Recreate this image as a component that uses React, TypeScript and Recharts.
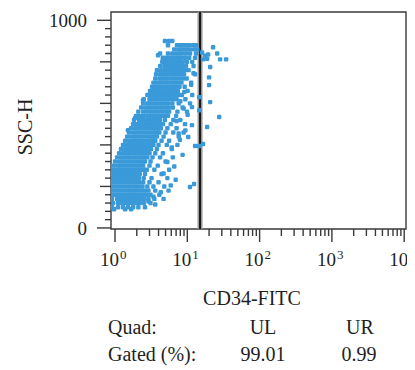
import React from 'react'
import {
  ScatterChart,
  Scatter,
  XAxis,
  YAxis,
  ReferenceArea,
  ReferenceLine,
} from 'recharts'

type Row = [number, number[]]

// each row: SSC-H level, then CD34-FITC values of the dots on that level
const crownRows: Row[] = [
  [900, [4.9, 5.6, 6.2]],
  [880, [5.4, 7.2, 8.0, 8.7, 9.6, 10.6, 12.0, 13.2]],
  [860, [6.6, 7.5, 8.2, 9.0, 9.9, 10.9, 12.4, 13.7]],
  [840, [4.2, 5.4, 6.2, 7.0, 7.7, 8.5, 9.6, 10.9, 13.2]],
  [820, [4.6, 5.1, 5.6, 6.2, 6.8, 7.5, 8.2, 9.3, 10.6, 12.8]],
  [800, [4.5, 4.9, 5.4, 6.0, 6.6, 7.2, 8.0, 8.7, 9.9, 11.7]],
]

const upperRows: Row[] = [
  [780, [4.2, 4.8, 5.3, 5.8, 6.4, 7.0, 7.7, 8.5, 9.6, 12.2]],
  [760, [3.8, 4.3, 4.8, 5.3, 5.8, 6.4, 7.0, 7.7, 8.5, 9.3, 10.4]],
  [740, [3.7, 4.2, 4.6, 5.1, 5.6, 6.2, 6.8, 7.5, 8.2, 9.0, 12.8]],
  [720, [3.6, 4.1, 4.5, 4.9, 5.4, 6.0, 6.6, 7.2, 8.0, 8.8, 9.8]],
  [700, [3.4, 3.8, 4.2, 4.6, 5.1, 5.6, 6.2, 6.8, 7.5, 8.3, 11.3]],
  [680, [3.25, 3.6, 3.9, 4.3, 4.8, 5.3, 5.8, 6.4, 7.0, 7.8, 9.2]],
  [660, [3.05, 3.4, 3.7, 4.1, 4.5, 4.9, 5.4, 6.0, 6.6, 7.4, 10.1]],
  [640, [2.8, 3.15, 3.5, 3.8, 4.2, 4.6, 5.1, 5.6, 6.2, 6.9, 7.6, 8.4, 11.7]],
  [620, [2.5, 3.0, 3.25, 3.6, 3.9, 4.3, 4.8, 5.3, 5.8, 6.4, 7.1, 9.4]],
  [600, [2.45, 2.8, 3.05, 3.4, 3.7, 4.1, 4.5, 4.9, 5.4, 6.2, 7.6, 10.9]],
]

const middleRows: Row[] = [
  [580, [2.3, 2.6, 2.85, 3.15, 3.5, 3.8, 4.2, 4.6, 5.1, 5.6, 6.3, 8.6]],
  [560, [2.1, 2.45, 2.7, 3.0, 3.25, 3.6, 3.9, 4.3, 4.8, 5.2, 5.6, 7.3, 9.9]],
  [540, [1.95, 2.1, 2.3, 2.5, 2.8, 3.05, 3.4, 3.7, 4.1, 4.5, 4.9, 5.4, 7.0]],
  [520, [1.83, 2.15, 2.37, 2.6, 2.85, 3.15, 3.5, 3.8, 4.2, 4.9, 6.4, 8.0]],
  [500, [1.78, 2.0, 2.2, 2.45, 2.7, 3.0, 3.25, 3.6, 3.9, 4.25, 4.6, 5.9, 9.3]],
  [480, [1.67, 1.9, 2.1, 2.3, 2.5, 2.8, 3.05, 3.4, 3.7, 4.0, 4.3, 5.3, 7.1]],
  [460, [1.56, 1.78, 1.95, 2.15, 2.37, 2.6, 2.85, 3.15, 3.5, 3.8, 4.1, 5.0, 6.4, 8.9]],
  [440, [1.47, 1.67, 1.83, 2.0, 2.2, 2.45, 2.7, 3.0, 3.25, 3.5, 3.8, 4.7, 7.6]],
  [420, [1.38, 1.56, 1.72, 1.9, 2.1, 2.3, 2.5, 2.8, 3.05, 3.3, 3.6, 4.4, 5.6]],
  [400, [1.29, 1.47, 1.61, 1.78, 1.95, 2.15, 2.37, 2.6, 2.85, 3.1, 3.4, 4.0, 5.2, 7.3]],
  [380, [1.21, 1.38, 1.51, 1.67, 1.83, 2.0, 2.2, 2.45, 2.7, 2.9, 3.15, 3.8, 6.1]],
  [360, [1.14, 1.29, 1.42, 1.56, 1.72, 1.9, 2.1, 2.3, 2.5, 2.75, 3.0, 3.6, 4.6]],
  [340, [1.07, 1.21, 1.33, 1.47, 1.61, 1.78, 1.95, 2.15, 2.37, 2.6, 2.8, 3.3, 4.2, 6.3]],
  [320, [1.0, 1.14, 1.25, 1.38, 1.51, 1.67, 1.83, 2.0, 2.2, 2.4, 2.6, 3.1, 5.0]],
  [300, [0.94, 1.07, 1.17, 1.29, 1.42, 1.56, 1.72, 1.9, 2.1, 2.27, 2.45, 3.0, 3.9]],
]

const lowerRows: Row[] = [
  [280, [0.91, 1.0, 1.1, 1.21, 1.33, 1.47, 1.61, 1.78, 1.95, 2.12, 2.3, 2.5, 2.75, 3.5, 5.6]],
  [260, [0.91, 1.0, 1.1, 1.21, 1.33, 1.47, 1.61, 1.78, 1.95, 2.2, 2.6, 4.4]],
  [240, [0.91, 1.0, 1.1, 1.21, 1.33, 1.47, 1.61, 1.78, 1.95, 2.15, 2.5, 3.2, 5.3]],
  [220, [0.91, 1.0, 1.1, 1.21, 1.33, 1.47, 1.61, 1.78, 1.95, 2.15, 2.45, 3.0, 4.0]],
  [200, [0.91, 1.0, 1.1, 1.21, 1.33, 1.47, 1.61, 1.78, 1.95, 2.15, 2.4, 2.8, 3.4, 4.8]],
  [180, [0.91, 1.0, 1.1, 1.21, 1.33, 1.47, 1.61, 1.78, 1.95, 2.15, 2.37, 2.6, 2.9, 3.6, 5.5]],
  [160, [0.94, 1.03, 1.14, 1.25, 1.38, 1.51, 1.67, 1.83, 2.0, 2.2, 2.45, 2.75, 3.1, 4.1]],
  [140, [0.91, 1.07, 1.17, 1.29, 1.42, 1.56, 1.72, 1.9, 2.1, 2.3, 2.55, 2.9, 3.5, 4.7]],
  [120, [0.94, 1.1, 1.21, 1.33, 1.47, 1.61, 1.78, 1.95, 2.2, 2.5, 3.1]],
  [100, [0.91, 1.1, 1.29, 1.51, 1.78, 2.1, 2.6]],
  [90, [0.97, 1.38, 1.67]],
]

// loose events: right edge of the band and around the gate
const strays: [number, number][] = [
  [22.7, 870], [25.9, 840], [28.4, 812], [34.4, 812],
  [16.0, 845], [17.6, 830], [18.8, 815], [16.5, 812], [19.4, 835],
  [20.7, 775], [20.0, 725], [20.0, 688], [20.7, 606], [27.6, 534],
  [18.8, 486], [16.5, 404], [14.6, 395], [12.8, 395],
  [14.6, 630], [14.6, 567], [10.9, 197], [12.4, 212],
  [11.6, 495], [11.6, 582], [10.3, 438], [3.94, 832], [4.6, 812],
  [1.89, 529], [2.44, 615], [1.51, 471],
  [9.1, 655], [8.0, 610], [10.1, 545], [7.1, 515], [9.4, 470],
  [7.9, 425], [6.1, 388], [8.6, 352], [5.3, 318], [6.6, 296],
  [4.7, 262], [6.9, 232], [5.9, 205], [4.3, 172], [3.4, 150],
  [2.9, 128], [3.6, 113], [12.2, 745], [11.3, 690], [8.9, 575],
  [7.6, 455],
]

const gateX = 15
const xTicks = [
  1, 2, 3, 4, 5, 6, 7, 8, 9,
  10, 20, 30, 40, 50, 60, 70, 80, 90,
  100, 200, 300, 400, 500, 600, 700, 800, 900,
  1000, 2000, 3000, 4000, 5000, 6000, 7000, 8000, 9000,
  10000,
]
const yTicks = [
  0, 40, 80, 120, 160, 200, 240, 280, 320, 360, 400, 440, 480,
  520, 560, 600, 640, 680, 720, 760, 800, 840, 880, 920, 960, 1000,
]
const quadLabels = ['UL', 'UR']
const gatedPct = ['99.01', '0.99']

const DOT = '#3a9ad9'
const AXIS = '#3a3a3a'
const TEXT = '#1f1f1f'
const FONT = "'Liberation Serif', 'DejaVu Serif', serif"

const flatten = (rows: Row[]) =>
  rows.flatMap(([ssc, xs]) => xs.map((fitc) => ({ fitc, ssc })))

const events = [
  ...flatten(crownRows),
  ...flatten(upperRows),
  ...flatten(middleRows),
  ...flatten(lowerRows),
  ...strays.map(([fitc, ssc]) => ({ fitc, ssc })),
]

// cytometer events look like small soft squares
const Dot = (props: any) => {
  const { cx, cy } = props
  if (cx == null || cy == null) return null
  return <rect x={cx - 2.2} y={cy - 2.2} width={4.4} height={4.4} rx={1.2} fill={DOT} />
}

const XTick = ({ x, y, payload }: any) => {
  const lg = Math.log10(payload.value)
  const exp = Math.round(lg)
  const major = Math.abs(lg - exp) < 1e-9
  return (
    <g>
      <line x1={x} x2={x} y1={y} y2={y + (major ? 13 : 7)} stroke={AXIS} strokeWidth={1.4} />
      {major && (
        <>
          <text x={x + 4} y={y + 37} textAnchor="end" fontSize={19} fontFamily={FONT} fill={TEXT}>
            10
          </text>
          <text x={x + 5} y={y + 30} textAnchor="start" fontSize={13} fontFamily={FONT} fill={TEXT}>
            {exp}
          </text>
        </>
      )}
    </g>
  )
}

const YTick = ({ x, y, payload }: any) => {
  const v = payload.value
  const end = v === 0 || v === 1000
  const len = end ? 14 : v % 200 === 0 ? 11 : 6
  return (
    <g>
      <line x1={x - len} x2={x} y1={y} y2={y} stroke={AXIS} strokeWidth={1.4} />
      {end && (
        <text x={x - 24} y={y} dy="0.35em" textAnchor="end" fontSize={19} fontFamily={FONT} fill={TEXT}>
          {v}
        </text>
      )}
    </g>
  )
}

export default function App() {
  return (
    <div style={{ position: 'relative', width: 410, height: 362 }}>
      <ScatterChart
        width={410}
        height={300}
        margin={{ top: 4, right: 12, bottom: 0, left: 0 }}
      >
        <XAxis
          type="number"
          dataKey="fitc"
          scale="log"
          domain={[0.88, 10590]}
          allowDataOverflow
          ticks={xTicks}
          interval={0}
          tick={<XTick />}
          tickLine={false}
          axisLine={false}
          tickSize={0}
          tickMargin={0}
          height={79}
        />
        <YAxis
          type="number"
          dataKey="ssc"
          domain={[-5, 1040]}
          allowDataOverflow
          ticks={yTicks}
          interval={0}
          tick={<YTick />}
          tickLine={false}
          axisLine={false}
          tickSize={0}
          tickMargin={0}
          width={103}
        />
        <Scatter data={events} shape={<Dot />} isAnimationActive={false} />
        <ReferenceLine x={gateX} stroke="#9a9a9a" strokeWidth={5} />
        <ReferenceLine x={gateX} stroke="#1a1a1a" strokeWidth={2} />
        <ReferenceArea
          x1={0.88}
          x2={10590}
          y1={-5}
          y2={1040}
          fill="none"
          stroke={AXIS}
          strokeWidth={1.4}
        />
      </ScatterChart>
      <svg
        width={410}
        height={362}
        style={{ position: 'absolute', left: 0, top: 0, pointerEvents: 'none' }}
        fontFamily={FONT}
        fill={TEXT}
        fontSize={20}
      >
        <text x={17} y={119} dy="0.35em" textAnchor="middle" transform="rotate(-90 17 119)">
          SSC-H
        </text>
        <text x={244} y={297} textAnchor="middle">
          CD34-FITC
        </text>
        <text x={100} y={326}>Quad:</text>
        <text x={255} y={326} textAnchor="middle">{quadLabels[0]}</text>
        <text x={352} y={326} textAnchor="middle">{quadLabels[1]}</text>
        <text x={100} y={353}>Gated (%):</text>
        <text x={255} y={353} textAnchor="middle">{gatedPct[0]}</text>
        <text x={351} y={353} textAnchor="middle">{gatedPct[1]}</text>
      </svg>
    </div>
  )
}
